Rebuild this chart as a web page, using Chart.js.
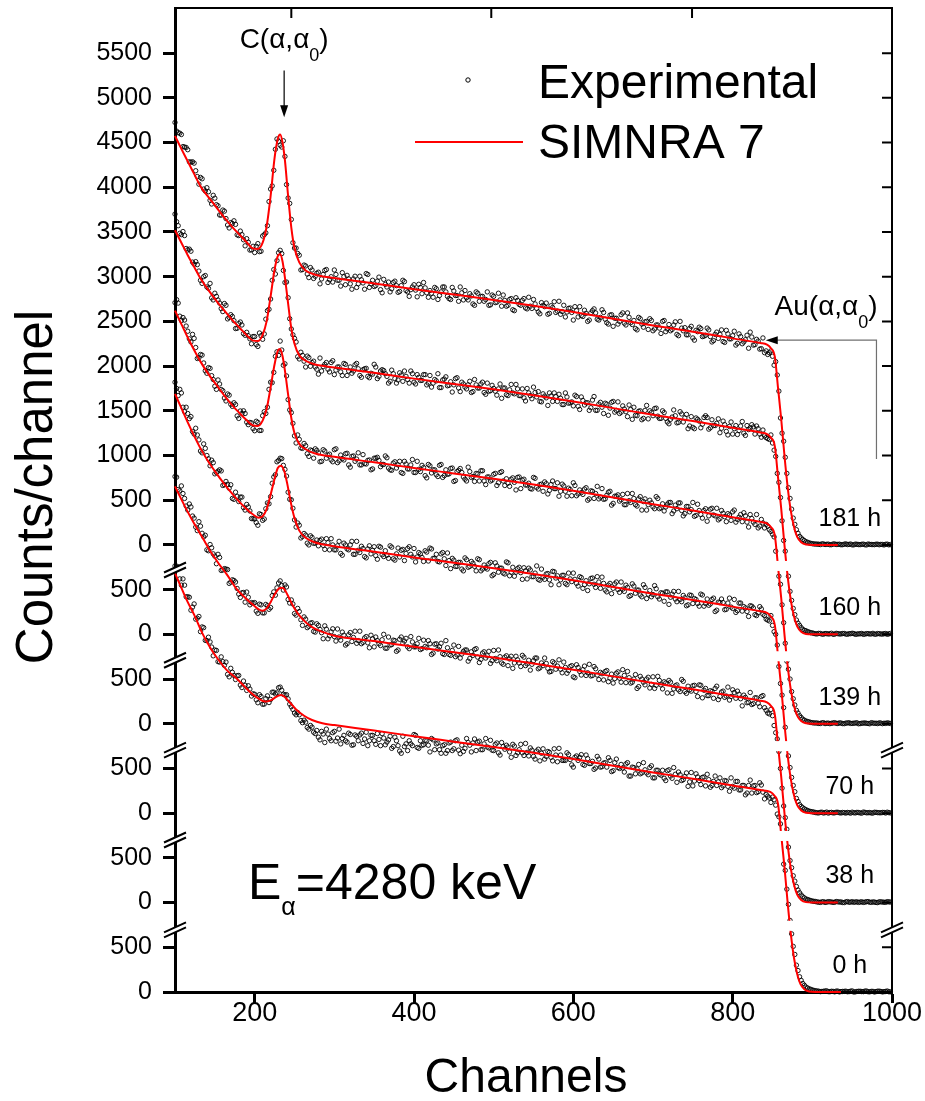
<!DOCTYPE html>
<html>
<head>
<meta charset="utf-8">
<script src="https://cdn.jsdelivr.net/npm/chart.js@4.4.1/dist/chart.umd.min.js"></script>
<style>
  html, body { margin: 0; padding: 0; background: #fff; }
  #wrap { width: 925px; height: 1101px; }
</style>
</head>
<body>
<div id="wrap"><canvas id="rbsChart"></canvas></div>
<script>
// spectra from bottom to top; each one is lifted by its panel offset
const hours = ['0 h', '38 h', '70 h', '139 h', '160 h', '181 h'];
const panelOffsets = [0, 1000, 2000, 3000, 4000, 5000];

// experimental points: one value every 4 channels, two interleaved grids
const expStartEven = 100;
const expStartOdd = 102;
const expStep = 4;

const exp0h = [
  4765,4750,4550,4550,4420,4270,4340,4180,4030,4075,3930,3915,3760,3820,3690,3695,3690,3525,3575,3495,3540,3405,3430,3425,3310,
  3330,3235,3305,3220,3312,3272,3353,3345,3410,3330,3325,3220,3160,3100,3100,3012,3018,2940,2962,2890,
  2850,2915,2790,2885,2810,2915,2840,2775,2870,2795,2880,2765,2860,2875,2780,2905,2810,2870,2770,2825,
  2890,2765,2820,2725,2850,2755,2670,2745,2700,2775,2880,2735,2810,2765,2810,2685,2820,2775,2710,2755,
  2670,2785,2700,2810,2705,2760,2725,2790,2685,2830,2795,2710,2775,2740,2815,2700,2785,2650,2745,2760,
  2685,2770,2645,2710,2675,2780,2640,2705,2605,2715,2670,2605,2690,2625,2720,2575,2650,2590,2675,2600,
  2515,2640,2625,2545,2650,2555,2580,2505,2605,2520,2565,2620,2465,2565,2510,2545,2460,2565,2415,2510,
  2495,2440,2565,2450,2510,2395,2480,2435,2480,2365,2485,2390,2435,2460,2365,2410,2300,2455,2360,2405,
  2320,2405,2435,2290,2355,2310,2395,2305,2360,2245,2300,2355,2260,2310,2205,2310,2225,2310,2240,2315,2160,
  2190,2120,2150,1990,1880,1430,1150,800,510,300,170,95,55,35,22,
  14,9,6,11,4,8,2,10,5,7,3,9,0,6,8,4,11,2,7,5,9,1,6,3
];
const exp0hOdd = [
  4763,4620,4620,4420,4415,4305,4170,4200,4083,3933,3968,3858,3825,3695,3748,3653,3553,3620,3540,3538,3433,3478,3373,3388,3335,
  3268,3325,3218,3281,3237,3353,3334,3403,3375,3323,3278,3190,3120,3125,3036,3040,2959,2981,2906,2925,
  2820,2885,2940,2835,2900,2805,2940,2835,2810,2895,2760,2875,2810,2895,2830,2755,2870,2810,2890,2755,
  2840,2795,2860,2745,2810,2695,2860,2775,2810,2755,2870,2725,2760,2815,2760,2835,2710,2785,2670,2765,
  2700,2795,2720,2820,2665,2690,2835,2760,2785,2700,2805,2710,2835,2730,2705,2770,2675,2790,2715,2740,
  2625,2750,2675,2770,2645,2680,2730,2635,2695,2585,2720,2635,2680,2585,2650,2725,2590,2590,2655,2540,
  2625,2590,2655,2535,2610,2555,2490,2635,2515,2560,2515,2590,2475,2605,2500,2505,2550,2415,2515,2440,
  2545,2450,2485,2430,2530,2395,2480,2425,2390,2475,2415,2510,2345,2430,2375,2450,2350,2305,2440,2365,
  2400,2305,2375,2310,2415,2350,2285,2365,2300,2395,2280,2355,2260,2310,2225,2370,2305,2230,2340,2235,2210,
  2170,2180,2090,1960,1720,1360,980,650,420,240,130,75,45,30,18,
  11,4,8,13,3,7,10,1,6,9,4,12,2,8,5,10,3,7,0,9,6,4,11,2
];
const exp38h = [
  4765,4620,4660,4520,4390,4425,4300,4160,4210,4090,3945,4005,3900,3790,3860,3720,3730,3570,3610,3585,3450,3465,3360,3415,3355,
  3355,3235,3330,3240,3320,3300,3475,3520,3598,3495,3530,3350,3340,3215,3255,3100,3170,3090,3130,3025,
  3100,3018,3095,2950,3028,2975,3060,2935,2990,2895,3020,2965,2900,3035,2910,2975,2850,2950,2970,2895,
  2940,2845,2970,2885,2930,2825,2970,2925,2860,2975,2860,2895,2830,2935,2850,2895,2790,2895,2860,2785,
  2930,2775,2820,2750,2865,2780,2825,2700,2805,2830,2745,2720,2805,2760,2675,2820,2705,2750,2665,2760,
  2725,2620,2755,2680,2765,2650,2710,2665,2735,2615,2680,2735,2620,2585,2680,2645,2610,2690,2565,2640,
  2525,2660,2585,2605,2540,2665,2540,2615,2495,2560,2585,2470,2555,2505,2580,2465,2540,2585,2455,2500,
  2395,2530,2465,2500,2400,2525,2430,2485,2390,2455,2485,2340,2425,2380,2495,2360,2420,2365,2430,2305,
  2430,2375,2315,2370,2285,2420,2305,2365,2310,2265,2380,2285,2330,2200,2295,2240,2215,2290,2230,2305,2180,
  2120,2160,1980,1830,1500,1080,820,470,300,180,110,65,40,28,17,
  12,5,8,2,10,6,3,9,7,0,11,5,3,8,6,2,10,4,7,1,9,6,3,8
];
const exp38hOdd = [
  4758,4605,4575,4435,4458,4323,4200,4260,4130,4108,3935,3968,3875,3895,3715,3735,3725,3585,3603,3513,3413,3468,3473,3330,3350,
  3260,3338,3240,3335,3280,3433,3438,3574,3547,3553,3390,3385,3233,3290,3163,3195,3075,3125,3033,3118,
  3054,2951,3058,2984,3062,2925,2970,3025,2880,2995,2920,3035,2930,2895,2960,2905,2990,2860,2930,2875,
  3000,2845,2880,2935,2810,2945,2900,2955,2840,2915,2860,2955,2840,2865,2930,2775,2890,2835,2900,2775,
  2850,2765,2880,2770,2735,2810,2825,2730,2765,2840,2685,2790,2735,2810,2705,2730,2825,2680,2745,2650,
  2755,2680,2715,2640,2745,2670,2600,2705,2735,2625,2650,2675,2580,2695,2610,2715,2570,2630,2595,2650,
  2515,2630,2545,2645,2570,2535,2640,2545,2575,2490,2595,2510,2455,2565,2510,2605,2460,2515,2465,2550,
  2415,2500,2435,2520,2440,2395,2530,2435,2470,2345,2465,2390,2435,2360,2475,2340,2380,2425,2360,2435,
  2290,2395,2315,2360,2395,2270,2355,2295,2410,2305,2350,2365,2280,2320,2235,2350,2225,2290,2190,2315,2150,
  2110,2090,1900,1690,1280,950,620,390,240,140,85,52,34,22,14,
  7,2,10,5,9,3,12,6,1,8,4,10,7,2,9,5,11,3,6,0,8,4,10,6
];
const exp70h = [
  4820,4670,4700,4490,4470,4435,4240,4230,4050,4130,4000,3885,3920,3810,3840,3665,3710,3635,3520,3590,3485,3535,3390,3425,3295,
  3290,3220,3340,3290,3470,3540,3760,3930,3970,3890,3770,3510,3410,3200,3220,3095,3110,3000,3085,3020,
  2990,3065,2950,3025,3070,2945,2990,2905,3020,2955,3000,2895,3040,2915,2960,2855,2990,2940,2880,2985,
  2890,2935,2850,2975,2830,2965,2940,2825,2960,2895,2960,2865,2900,2815,2920,2965,2850,2895,2810,2915,
  2770,2825,2850,2760,2805,2730,2855,2750,2815,2760,2845,2710,2775,2730,2805,2670,2765,2740,2685,2810,
  2655,2750,2695,2750,2615,2710,2740,2645,2685,2615,2730,2615,2680,2555,2700,2655,2610,2660,2555,2620,
  2685,2570,2645,2515,2600,2565,2630,2525,2585,2640,2495,2550,2455,2565,2500,2585,2480,2525,2435,2540,
  2495,2440,2555,2400,2490,2445,2510,2395,2460,2475,2335,2450,2395,2480,2365,2410,2330,2435,2400,2345,
  2450,2315,2395,2340,2405,2270,2355,2355,2280,2405,2290,2245,2350,2260,2295,2200,2315,2220,2240,2285,2210,
  2160,2210,2030,1880,1450,1180,760,510,310,165,95,60,38,22,15,
  7,3,11,6,1,9,4,10,2,6,8,0,5,9,3,12,4,7,1,9,5,8,2,6
];
const exp70hOdd = [
  4750,4740,4540,4540,4413,4268,4305,4175,4030,4080,3963,3948,3795,3825,3828,3673,3678,3673,3510,3543,3535,3418,3453,3380,3293,
  3250,3348,3275,3405,3460,3690,3785,3945,3965,3845,3590,3505,3280,3245,3078,3128,3020,3102,3018,3055,
  3050,2995,3070,2945,3000,2945,3040,2885,3000,2945,3040,2895,2940,2985,2870,2955,2900,2980,2840,2975,
  2870,2885,2990,2845,2900,2865,2950,2905,2980,2865,2810,2915,2860,2935,2820,2955,2850,2815,2900,2845,
  2910,2735,2830,2760,2805,2710,2835,2760,2795,2710,2835,2730,2745,2790,2655,2800,2695,2740,2675,2800,
  2695,2650,2735,2690,2745,2620,2720,2645,2765,2605,2640,2675,2610,2705,2630,2555,2660,2570,2685,2590,
  2615,2540,2635,2555,2490,2625,2560,2645,2515,2570,2475,2570,2515,2585,2470,2505,2550,2425,2565,2460,
  2495,2420,2525,2450,2420,2545,2420,2465,2370,2475,2415,2480,2365,2390,2435,2320,2440,2345,2390,2315,
  2440,2345,2325,2390,2255,2360,2395,2275,2350,2305,2390,2265,2350,2310,2255,2320,2295,2210,2310,2225,2170,
  2150,2100,2000,1640,1320,960,640,400,240,130,75,48,30,19,12,
  4,9,2,12,7,3,10,5,8,1,6,11,3,7,0,9,5,2,10,6,4,8,11,3
];
const exp139h = [
  4710,4705,4510,4515,4390,4270,4310,4085,4130,4035,3920,3975,3850,3740,3800,3725,3610,3675,3550,3570,3415,3470,3470,3345,3365,
  3277,3370,3280,3490,3540,3820,3930,4160,4280,4010,3890,3510,3360,3140,3180,3080,3110,2990,3055,3075,
  3030,2935,3050,3005,2950,3065,2920,3005,2950,3025,2870,2995,2960,2895,3010,2905,2950,2850,2970,2945,
  2900,2995,2860,2835,2930,2895,2810,2935,2850,2895,2810,2935,2820,2865,2750,2885,2840,2785,2890,2755,
  2840,2795,2860,2720,2835,2810,2735,2870,2755,2710,2795,2830,2715,2760,2715,2790,2665,2810,2715,2740,
  2655,2750,2615,2760,2725,2670,2690,2625,2745,2625,2680,2705,2570,2675,2630,2695,2600,2660,2545,2620,
  2695,2550,2615,2565,2640,2515,2600,2575,2515,2630,2515,2590,2445,2545,2560,2505,2450,2575,2475,2520,
  2435,2540,2485,2390,2500,2425,2540,2405,2460,2425,2475,2350,2445,2470,2385,2350,2430,2395,2320,2455,
  2340,2385,2265,2400,2335,2410,2295,2355,2260,2335,2370,2255,2310,2260,2325,2200,2295,2230,2190,2285,2190,
  2210,2150,2090,1760,1560,1130,700,500,280,150,90,50,30,20,12,
  9,4,10,2,7,5,12,3,8,1,9,4,6,11,2,7,5,0,8,6,10,1,4,7
];
const exp139hOdd = [
  4743,4558,4543,4448,4305,4355,4208,4093,4123,3948,3983,3893,3775,3845,3738,3643,3688,3573,3590,3443,3498,3500,3373,3370,3301,
  3383,3280,3445,3470,3740,3815,4110,4120,4180,4025,3625,3480,3220,3230,3085,3135,3020,3062,2970,3058,
  2930,3065,2970,3015,2930,3075,2940,2965,3020,2895,2990,2935,3030,2895,2910,2945,2840,2970,2980,2875,
  2900,2975,2840,2915,2860,2935,2800,2905,2850,2955,2810,2845,2890,2775,2900,2805,2840,2765,2900,2775,
  2790,2855,2710,2820,2855,2760,2715,2820,2765,2800,2715,2830,2675,2760,2725,2800,2695,2820,2665,2690,
  2735,2700,2755,2630,2735,2670,2630,2755,2645,2675,2600,2685,2610,2715,2630,2545,2680,2600,2635,2550,
  2665,2570,2585,2625,2500,2605,2520,2655,2535,2510,2555,2600,2465,2545,2490,2565,2450,2495,2575,2450,
  2515,2390,2515,2450,2470,2405,2520,2415,2380,2455,2475,2380,2405,2470,2325,2430,2370,2475,2330,2385,
  2300,2405,2325,2410,2325,2280,2385,2315,2350,2275,2390,2285,2340,2360,2255,2340,2255,2340,2210,2245,2230,
  2170,2120,1930,1650,1330,900,610,360,210,120,70,40,25,15,9,
  8,3,12,6,1,9,5,10,2,7,11,4,8,0,6,9,3,12,5,2,8,6,10,3
];
const exp160h = [
  4700,4570,4470,4460,4300,4285,4140,4135,3960,4000,3885,3925,3740,3780,3705,3610,3680,3545,3555,3420,3475,3460,3345,3340,3250,
  3330,3220,3340,3360,3620,3750,4080,4180,4295,4070,3940,3530,3350,3270,3080,3120,2990,3095,3040,2990,
  2910,2945,3020,2965,3040,2905,2990,2935,3030,2895,2990,2945,3030,2895,2960,2975,2870,2910,2990,2885,
  2960,2915,2810,2955,2860,2845,2900,2945,2850,2945,2820,2905,2840,2905,2790,2895,2810,2835,2760,2845,
  2880,2785,2710,2860,2755,2820,2765,2790,2705,2850,2755,2800,2705,2810,2725,2750,2675,2800,2755,2680,
  2735,2700,2795,2670,2745,2610,2700,2635,2705,2715,2600,2665,2560,2665,2700,2605,2640,2570,2655,2590,
  2555,2660,2515,2615,2590,2505,2620,2505,2575,2540,2585,2450,2595,2485,2600,2485,2520,2435,2515,2540,
  2445,2500,2415,2560,2500,2445,2530,2415,2500,2415,2355,2430,2445,2370,2465,2420,2300,2435,2300,2405,
  2310,2425,2425,2310,2335,2360,2255,2385,2270,2325,2240,2335,2280,2380,2225,2290,2345,2240,2300,2205,2220,
  2190,2230,2060,1800,1530,1050,790,480,290,160,100,55,40,25,16,
  6,11,3,9,4,12,2,8,5,10,1,7,9,3,6,0,8,4,11,2,7,3,9,5
];
const exp160hOdd = [
  4615,4485,4505,4315,4308,4163,4168,4063,3925,4013,3870,3763,3815,3738,3643,3700,3528,3575,3508,3423,3493,3363,3378,3305,3331,
  3241,3370,3300,3525,3635,3960,4030,4268,4258,3935,3765,3415,3310,3105,3155,3055,3112,2998,3055,2965,
  3090,2995,3040,2935,3060,2955,2990,2895,3020,2945,2920,3015,2970,2875,2970,2885,2920,3020,2860,2945,
  2950,2885,2830,2915,2810,2925,2830,2885,2810,2915,2800,2875,2840,2905,2810,2765,2850,2915,2760,2855,
  2780,2825,2790,2870,2715,2800,2745,2830,2715,2790,2755,2820,2685,2720,2785,2720,2745,2640,2755,2670,
  2795,2690,2745,2670,2645,2750,2670,2765,2655,2605,2690,2645,2700,2605,2660,2685,2570,2700,2585,2600,
  2675,2550,2655,2565,2590,2535,2660,2505,2595,2470,2575,2530,2605,2505,2470,2555,2490,2565,2405,2450,
  2495,2400,2505,2410,2480,2525,2440,2415,2480,2375,2405,2510,2365,2490,2375,2460,2330,2315,2420,2385,
  2350,2445,2295,2400,2335,2410,2305,2345,2230,2375,2300,2235,2330,2250,2335,2310,2320,2330,2240,2285,2200,
  2180,2140,1990,1700,1270,930,650,380,220,125,75,45,30,18,10,
  5,10,2,8,6,1,11,4,9,3,7,12,0,6,10,3,8,5,2,9,4,7,1,10
];
const exp181h = [
  4725,4610,4590,4450,4420,4280,4270,4120,4110,3980,3995,3855,3910,3805,3690,3745,3650,3545,3595,3585,3460,3470,3345,3385,3300,
  3270,3370,3285,3470,3570,3980,4190,4540,4470,4520,4030,3820,3380,3320,3240,3080,3120,2990,3075,3005,
  3050,2975,3070,2935,3000,3075,2960,2895,3000,3015,2920,2975,2880,3005,2930,3035,2880,2960,2900,2995,
  2820,2915,2940,2865,2950,2825,2900,2945,2830,2855,2910,2775,2880,2935,2820,2845,2770,2865,2790,2885,
  2830,2755,2880,2790,2725,2820,2845,2740,2785,2680,2815,2780,2725,2830,2685,2780,2715,2740,2795,2670,
  2745,2630,2765,2690,2735,2650,2770,2645,2695,2605,2710,2665,2580,2675,2720,2615,2580,2680,2605,2650,
  2515,2620,2665,2555,2590,2515,2620,2595,2515,2630,2525,2470,2575,2535,2470,2575,2480,2595,2485,2510,
  2405,2530,2435,2500,2530,2395,2460,2425,2500,2385,2465,2410,2495,2340,2425,2430,2350,2445,2290,2385,
  2420,2335,2425,2330,2285,2380,2355,2275,2400,2305,2340,2235,2360,2250,2295,2200,2325,2240,2280,2195,2150,
  2130,2170,2010,1900,1420,1160,800,520,300,170,95,60,35,22,14,
  10,8,12,5,9,3,11,6,2,8,4,10,1,7,3,9,0,6,4,8,2,5,7,1
];
const exp181hOdd = [
  4628,4605,4455,4445,4285,4285,4185,4035,4095,3958,3950,3813,3878,3793,3688,3733,3578,3605,3625,3468,3510,3413,3425,3298,3340,
  3340,3280,3455,3490,3840,4015,4425,4515,4450,4345,3880,3640,3320,3260,3075,3130,3030,3102,2980,3038,
  2920,3025,3080,2965,2940,3025,2960,3045,2910,2975,2860,3005,2920,2965,2860,3025,2920,2890,2950,2855,
  2970,2885,2830,2935,2900,2835,2960,2845,2780,2885,2850,2915,2810,2875,2770,2815,2880,2745,2830,2885,
  2780,2745,2840,2790,2885,2740,2765,2810,2695,2830,2725,2780,2745,2680,2795,2710,2815,2670,2735,2680,
  2755,2620,2735,2680,2755,2640,2670,2745,2645,2585,2680,2705,2590,2655,2600,2725,2610,2550,2645,2600,
  2665,2550,2565,2625,2500,2595,2640,2525,2545,2600,2485,2570,2445,2535,2500,2595,2460,2545,2465,2420,
  2545,2470,2495,2410,2510,2415,2460,2365,2510,2415,2395,2460,2355,2500,2395,2350,2420,2315,2400,2435,
  2330,2345,2405,2270,2355,2310,2405,2265,2360,2305,2390,2255,2330,2270,2345,2380,2235,2300,2190,2315,2170,
  2150,2110,2050,1720,1250,980,640,400,230,130,78,48,30,18,11,
  9,4,11,7,2,10,5,8,3,12,6,1,9,4,7,2,10,5,3,8,6,0,9,4
];
const expEven = [exp0h, exp38h, exp70h, exp139h, exp160h, exp181h];
const expOdd = [exp0hOdd, exp38hOdd, exp70hOdd, exp139hOdd, exp160hOdd, exp181hOdd];

// SIMNRA 7 curves as [channel, counts]
const simStart0h = [[100,4685],[108,4520],[116,4360],[124,4220],[135,4000],[145,3840],[155,3710],[165,3600],[178,3500],[188,3410],[196,3340],[205,3280],[213,3248],[220,3262],[226,3295],[230,3315],[233,3322],[237,3305],[244,3240],[252,3160],[262,3090],[272,3042],[285,3005]];
const simStart38h = [[100,4655],[108,4510],[116,4370],[124,4240],[135,4075],[145,3920],[155,3790],[165,3670],[178,3500],[188,3410],[198,3330],[205,3280],[210,3265],[215,3290],[220,3360],[226,3460],[231,3515],[235,3520],[239,3480],[244,3390],[250,3290],[260,3170],[272,3080],[286,3025]];
const simStart70h = [[100,4690],[108,4530],[116,4370],[124,4220],[132,4080],[142,3930],[152,3800],[162,3680],[172,3570],[182,3470],[190,3400],[198,3340],[205,3305],[210,3320],[215,3400],[220,3560],[225,3740],[229,3860],[233,3885],[237,3830],[241,3680],[245,3490],[250,3300],[256,3160],[264,3080],[275,3030]];
const simStart139h = [[100,4620],[108,4470],[116,4320],[124,4180],[132,4050],[142,3910],[152,3790],[162,3670],[172,3560],[182,3465],[190,3395],[198,3335],[204,3330],[210,3390],[215,3520],[220,3760],[225,4020],[229,4170],[232,4190],[235,4110],[238,3950],[242,3680],[246,3420],[250,3250],[256,3130],[264,3070],[275,3025]];
const simStart160h = [[100,4520],[108,4380],[116,4240],[124,4110],[132,3980],[142,3850],[152,3730],[162,3620],[172,3515],[182,3420],[190,3345],[198,3285],[204,3280],[210,3350],[215,3500],[220,3780],[225,4080],[229,4230],[232,4255],[235,4170],[238,3990],[242,3700],[246,3420],[250,3250],[256,3120],[264,3060],[275,3020]];
const simStart181h = [[100,4575],[108,4430],[116,4290],[124,4150],[132,4010],[142,3890],[152,3775],[162,3660],[172,3555],[182,3460],[190,3385],[198,3315],[204,3310],[210,3380],[215,3560],[220,3900],[225,4330],[229,4540],[232,4590],[235,4500],[238,4300],[242,3900],[246,3550],[250,3320],[256,3160],[264,3070],[275,3025]];
const simPlateau = [[300,2985],[350,2925],[400,2860],[450,2800],[500,2740],[550,2675],[600,2605],[650,2530],[700,2455],[750,2385],[800,2310],[835,2258]];
const simEdge = [[843,2240],[848,2200],[853,2100],[857,1750],[861,1400],[865,1000],[869,650],[873,380],[877,200],[881,90],[886,30],[892,5],[900,0],[932,0]];
const simEdge0h = [[847,2238],[852,2200],[857,2100],[861,1750],[865,1400],[869,1000],[873,650],[877,380],[881,200],[885,90],[890,30],[896,5],[904,0],[936,0]];
const simSeries = [
  simStart0h.concat(simPlateau, simEdge0h),
  simStart38h.concat(simPlateau, simEdge),
  simStart70h.concat(simPlateau, simEdge),
  simStart139h.concat(simPlateau, simEdge),
  simStart160h.concat(simPlateau, simEdge),
  simStart181h.concat(simPlateau, simEdge)
];

// axes
const xTicks = [200, 400, 600, 800, 1000];
const xTickLabels = ['200', '400', '600', '800', '1000'];
const yTickValues = [0,500,1000,1500,2000,2500,3000,3500,4000,4500,5000,5500,6000,6500,7000,7500,8000,8500,9000,9500,10000,10500];
const yTickLabels = ['0','500','0','500','0','500','0','500','0','500','0','500','1000','1500','2000','2500','3000','3500','4000','4500','5000','5500'];
const rightTickValues = [0,500,1000,2000,2500,3000,4000,5000,5500,6000,6500,7000,7500,8000,8500,9000,9500,10000,10500];
const topTickChannels = [246, 497, 749];
const leftBreaks = [695, 1700, 2705, 3710, 4720];
const rightBreaks = [695, 2705];

const FONT = '"Liberation Sans", Arial, sans-serif';
Chart.defaults.font.family = FONT;
Chart.defaults.color = '#000';

const datasets = [];
simSeries.forEach((s, i) => {
  datasets.push({
    label: 'SIMNRA 7 ' + hours[i],
    data: s.map(p => ({ x: p[0], y: p[1] + panelOffsets[i] })),
    borderColor: '#ff0000',
    borderWidth: 2,
    pointRadius: 0,
    cubicInterpolationMode: 'monotone',
    fill: false,
    clip: false,
    order: 0
  });
});
expEven.forEach((s, i) => {
  const pts = s.map((v, k) => ({ x: expStartEven + k * expStep, y: v + panelOffsets[i] }))
    .concat(expOdd[i].map((v, k) => ({ x: expStartOdd + k * expStep, y: v + panelOffsets[i] })));
  datasets.push({
    label: 'Experimental ' + hours[i],
    data: pts,
    showLine: false,
    pointStyle: 'circle',
    pointRadius: 2.2,
    pointBorderWidth: 0.9,
    pointBorderColor: '#000',
    pointBackgroundColor: 'rgba(255,255,255,0)',
    clip: false,
    order: 1
  });
});

function drawParts(ctx, parts, x, y, align) {
  let w = 0;
  parts.forEach(p => { ctx.font = p.size + 'px ' + FONT; p.w = ctx.measureText(p.t).width; w += p.w; });
  let cx = align === 'center' ? x - w / 2 : x;
  ctx.textAlign = 'left';
  ctx.textBaseline = 'alphabetic';
  parts.forEach(p => {
    ctx.font = p.size + 'px ' + FONT;
    ctx.fillText(p.t, cx, y + (p.dy || 0));
    cx += p.w;
  });
}

function drawBreak(ctx, cx, cy) {
  ctx.save();
  ctx.fillStyle = '#fff';
  ctx.beginPath();
  ctx.moveTo(cx - 11, cy + 2.5);
  ctx.lineTo(cx + 11, cy - 7.5);
  ctx.lineTo(cx + 11, cy - 2.5);
  ctx.lineTo(cx - 11, cy + 7.5);
  ctx.closePath();
  ctx.fill();
  ctx.strokeStyle = '#000';
  ctx.lineWidth = 2;
  ctx.beginPath();
  ctx.moveTo(cx - 11, cy + 2.5); ctx.lineTo(cx + 11, cy - 7.5);
  ctx.moveTo(cx - 11, cy + 7.5); ctx.lineTo(cx + 11, cy - 2.5);
  ctx.stroke();
  ctx.restore();
}

function arrowHead(ctx, tx, ty, dx, dy) {
  // filled triangle with tip at (tx, ty), pointing along (dx, dy)
  const len = 12, half = 4;
  const bx = tx - dx * len, by = ty - dy * len;
  ctx.beginPath();
  ctx.moveTo(tx, ty);
  ctx.lineTo(bx - dy * half, by + dx * half);
  ctx.lineTo(bx + dy * half, by - dx * half);
  ctx.closePath();
  ctx.fill();
}

const decor = {
  id: 'decor',
  afterDatasetsDraw(chart) {
    // the axis breaks leave a narrow empty band where the edges cross them
    const { ctx, scales: { x, y } } = chart;
    const x0 = x.getPixelForValue(845), x1 = x.getPixelForValue(905);
    ctx.save();
    ctx.fillStyle = '#fff';
    leftBreaks.forEach(v => {
      const py = y.getPixelForValue(v + 45);
      ctx.fillRect(x0, py - 5, x1 - x0, 10);
    });
    ctx.restore();
  },
  afterDraw(chart) {
    const { ctx, chartArea: a, scales: { x, y } } = chart;
    ctx.save();
    ctx.strokeStyle = '#000';
    ctx.fillStyle = '#000';

    // top and right frame with inward ticks
    ctx.lineWidth = 2;
    ctx.beginPath();
    ctx.moveTo(a.left, a.top); ctx.lineTo(a.right, a.top); ctx.lineTo(a.right, a.bottom);
    rightTickValues.forEach(v => {
      const py = y.getPixelForValue(v);
      ctx.moveTo(a.right, py); ctx.lineTo(a.right - 10, py);
    });
    topTickChannels.forEach(c => {
      const px = x.getPixelForValue(c);
      ctx.moveTo(px, a.top); ctx.lineTo(px, a.top + 10);
    });
    ctx.stroke();

    leftBreaks.forEach(v => drawBreak(ctx, a.left, y.getPixelForValue(v)));
    rightBreaks.forEach(v => drawBreak(ctx, a.right, y.getPixelForValue(v)));

    // time labels
    ctx.fillStyle = '#000';
    ctx.font = '25px ' + FONT;
    ctx.textAlign = 'center';
    ctx.textBaseline = 'alphabetic';
    hours.forEach((h, i) => {
      ctx.fillText(h, x.getPixelForValue(947), y.getPixelForValue(panelOffsets[i] + 215));
    });

    // C(a,a0) arrow
    const cx = x.getPixelForValue(237);
    drawParts(ctx, [{ t: 'C(\u03b1,\u03b1', size: 28 }, { t: '0', size: 18, dy: 13 }, { t: ')', size: 28 }],
      cx, y.getPixelForValue(10553), 'center');
    const cTop = y.getPixelForValue(10307), cTip = y.getPixelForValue(9782);
    ctx.lineWidth = 1.2;
    ctx.beginPath(); ctx.moveTo(cx, cTop); ctx.lineTo(cx, cTip - 10); ctx.stroke();
    arrowHead(ctx, cx, cTip, 0, 1);

    // Au(a,a0) arrow
    drawParts(ctx, [{ t: 'Au(\u03b1,\u03b1', size: 28 }, { t: '0', size: 18, dy: 13 }, { t: ')', size: 28 }],
      x.getPixelForValue(852.6), y.getPixelForValue(7570), 'left');
    const ay = y.getPixelForValue(7290), ax = x.getPixelForValue(980.5), tipX = x.getPixelForValue(841.5);
    ctx.strokeStyle = '#707070';
    ctx.beginPath();
    ctx.moveTo(ax, y.getPixelForValue(5960)); ctx.lineTo(ax, ay); ctx.lineTo(tipX + 10, ay);
    ctx.stroke();
    arrowHead(ctx, tipX, ay, -1, 0);

    // beam energy
    drawParts(ctx, [{ t: 'E', size: 50 }, { t: '\u03b1', size: 25, dy: 16 }, { t: '=4280 keV', size: 50 }],
      x.getPixelForValue(191.6), y.getPixelForValue(1036), 'left');

    // legend
    ctx.strokeStyle = '#000';
    ctx.lineWidth = 1;
    ctx.beginPath(); ctx.arc(468, 80, 2.2, 0, Math.PI * 2); ctx.stroke();
    ctx.strokeStyle = '#ff0000';
    ctx.lineWidth = 2;
    ctx.beginPath(); ctx.moveTo(415, 142); ctx.lineTo(523, 142); ctx.stroke();
    ctx.font = '48px ' + FONT;
    ctx.textAlign = 'left';
    ctx.fillText('Experimental', 538, 98);
    ctx.fillText('SIMNRA 7', 538, 158);

    // axis titles
    ctx.font = '48px ' + FONT;
    ctx.textAlign = 'center';
    ctx.fillText('Channels', 526, 1092);
    ctx.save();
    ctx.translate(52, 487);
    ctx.rotate(-Math.PI / 2);
    ctx.font = '51px ' + FONT;
    ctx.fillText('Counts/channel', 0, 0);
    ctx.restore();

    ctx.restore();
  }
};

new Chart(document.getElementById('rbsChart'), {
  type: 'line',
  data: { datasets: datasets },
  options: {
    responsive: true,
    maintainAspectRatio: false,
    animation: false,
    layout: { padding: { left: 0, right: 33, top: 8, bottom: 0 } },
    plugins: { legend: { display: false }, tooltip: { enabled: false } },
    scales: {
      x: {
        type: 'linear',
        min: 100,
        max: 1000,
        afterBuildTicks: s => { s.ticks = xTicks.map(v => ({ value: v })); },
        afterFit: s => { s.height = 109; s.paddingLeft = 0; s.paddingRight = 0; },
        grid: { display: true, drawOnChartArea: false, drawTicks: true, tickLength: 11, tickWidth: 3, tickColor: '#000' },
        border: { display: true, color: '#000', width: 3 },
        ticks: {
          color: '#000', font: { size: 27, lineHeight: 1 }, padding: -3,
          maxRotation: 0, autoSkip: false,
          callback: (v, i) => xTickLabels[i]
        }
      },
      y: {
        type: 'linear',
        min: 0,
        max: 11005,
        afterBuildTicks: s => { s.ticks = yTickValues.map(v => ({ value: v })); },
        afterFit: s => { s.width = 175; s.paddingTop = 0; s.paddingBottom = 0; },
        grid: { display: true, drawOnChartArea: false, drawTicks: true, tickLength: 12, tickWidth: 3, tickColor: '#000' },
        border: { display: true, color: '#000', width: 3 },
        ticks: {
          color: '#000', font: { size: 25 }, padding: 11, autoSkip: false,
          callback: (v, i) => yTickLabels[i]
        }
      }
    }
  },
  plugins: [decor]
});
</script>
</body>
</html>
